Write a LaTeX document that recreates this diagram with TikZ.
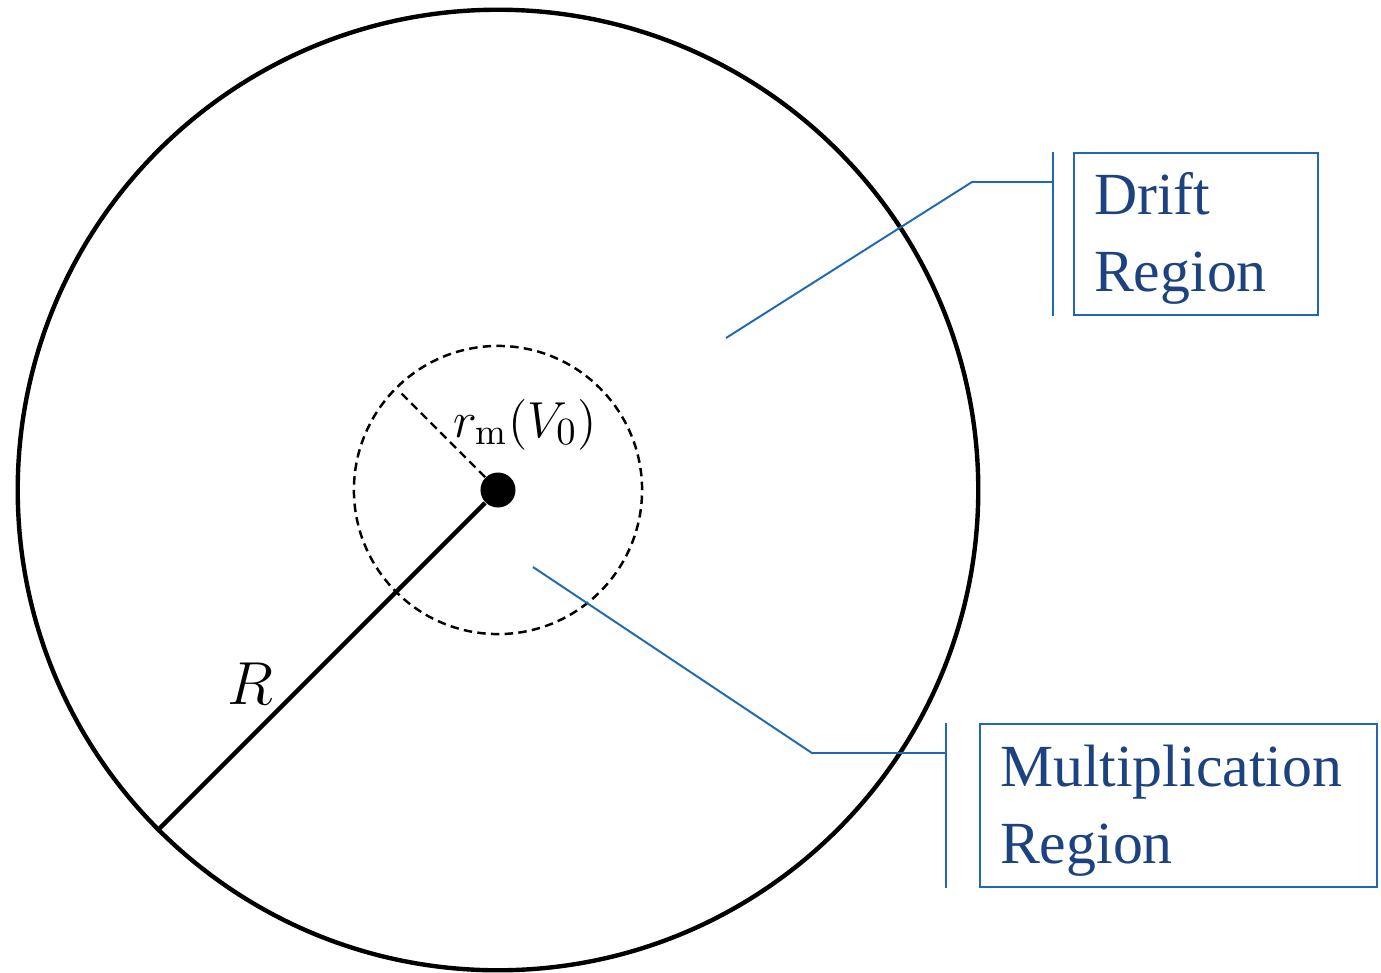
\documentclass[tikz,border=0pt]{standalone}
\usepackage{fontspec}
\newfontfamily\calloutfont{Liberation Serif}
\usetikzlibrary{positioning}
\definecolor{lineblue}{HTML}{1F68B3}
\definecolor{textblue}{HTML}{1C437F}

\begin{document}
\begin{tikzpicture}[
  x=0.01cm, y=-0.01cm,
  rim/.style={
    circle,
    draw=black,
    line width=1.25pt,
    minimum size=9.6cm,
    inner sep=0pt
  },
  zone/.style={
    circle,
    draw=black,
    line width=0.7pt,
    dash pattern=on 2.4pt off 1.5pt,
    minimum size=2.88cm,
    inner sep=0pt
  },
  hubdot/.style={circle, fill=black, minimum size=0.35cm, inner sep=0pt},
  radius line/.style={draw=black, line width=1.3pt},
  zone radius/.style={draw=black, line width=0.7pt, dash pattern=on 2.4pt off 1.5pt},
  callout/.style={
    draw=lineblue,
    line width=0.6pt,
    anchor=north west,
    align=left,
    inner xsep=0.2cm,
    inner ysep=0pt,
    text=textblue,
    font=\calloutfont\fontsize{17pt}{21.9pt}\selectfont
  },
  leader/.style={draw=lineblue, line width=0.55pt}
]

\useasboundingbox (0,0) rectangle (1381,972);

% detector cross-section
\node[rim] (outer) at (498,490) {};
\node[zone] (mult) at (498,490) {};
\node[hubdot] (hub) at (498,490) {};

\draw[radius line] (hub) -- (outer.225);
\coordinate (rmtip) at ([shift={(135:1.40cm)}]hub.center);
\draw[zone radius] (hub) -- (rmtip);

\node[anchor=base, font=\fontsize{15pt}{18pt}\selectfont] (rmlabel) at (525,437) {$r_{\mathrm{m}}(V_0)$};
\node[anchor=base, font=\fontsize{17.5pt}{21pt}\selectfont] (Rlabel) at (250,704) {$R$};

% callouts
\node[callout, text width=2.04cm, minimum height=1.62cm] (driftbox) at (1073,152)
  {\rule{0pt}{14.6pt}Drift\\Region};
\node[callout, text width=3.57cm, minimum height=1.63cm] (multbox) at (979,723)
  {\rule{0pt}{14.6pt}Multiplication\\Region};

\coordinate (driftbarN) at ([xshift=-0.2cm]driftbox.north west);
\coordinate (driftbarS) at ([xshift=-0.2cm]driftbox.south west);
\coordinate (multbarN) at ([xshift=-0.33cm]multbox.north west);
\coordinate (multbarS) at ([xshift=-0.33cm]multbox.south west);
\draw[leader] (driftbarN) -- (driftbarS);
\draw[leader] (multbarN) -- (multbarS);

\coordinate (driftpt) at (726,338);
\coordinate (driftbend) at (972,182);
\draw[leader] (driftpt) -- (driftbend) -- (driftbend -| driftbarN);

\coordinate (multpt) at (533,567);
\coordinate (multbend) at (812,753);
\draw[leader] (multpt) -- (multbend) -- (multbend -| multbarN);

\end{tikzpicture}
\end{document}
